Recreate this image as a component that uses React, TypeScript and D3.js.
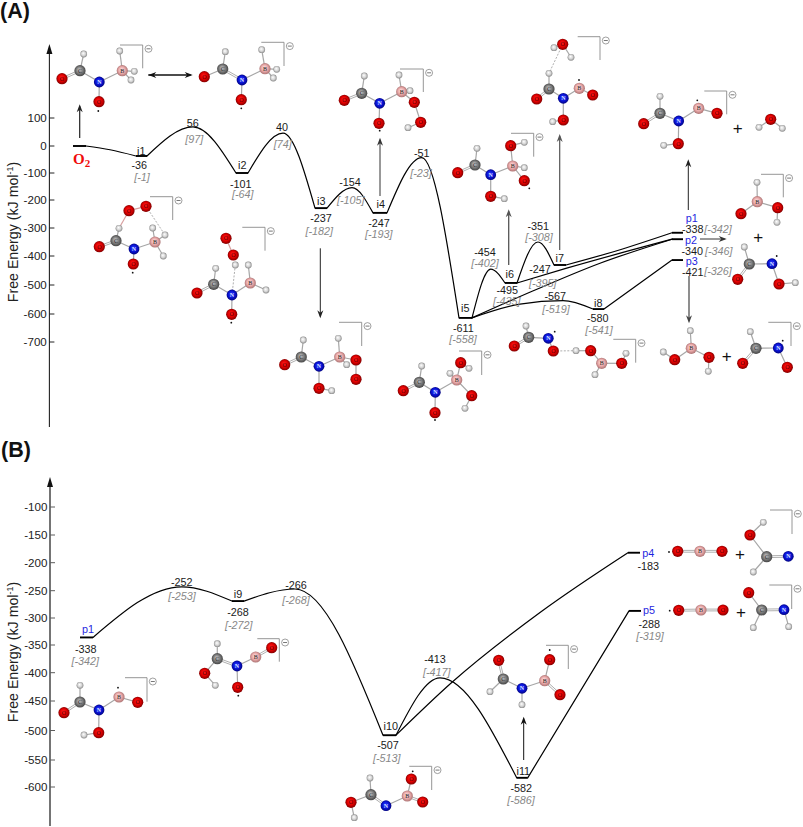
import React from "react";
import * as d3 from "d3";

// ---------- axis data ----------
const ticksA = [100, 0, -100, -200, -300, -400, -500, -600, -700];
const ticksAPos = [118, 146, 173, 200, 228, 256, 285, 314, 342];
const ticksB = [-100, -150, -200, -250, -300, -350, -400, -450, -500, -550, -600];
const ticksBPos = [507, 535, 562.7, 590.7, 618, 645, 672.7, 701, 730.5, 760, 787];

const xs = d3.scaleLinear().domain([0, 803]).range([0, 803]);
const yA = d3.scaleLinear().domain(ticksA).range(ticksAPos);
const yB = d3.scaleLinear().domain(ticksB).range(ticksBPos);

// ---------- energy profile, panel A: [reaction coordinate, energy as drawn] ----------
type P = [number, number];
const levelsA: P[][] = [
  [[73, 0], [86, 0]],
  [[136, -37], [147, -37]],
  [[236, -100], [248, -100]],
  [[315, -229], [327, -229]],
  [[373, -246], [387, -246]],
  [[459, -614], [472, -614]],
  [[505, -493], [517, -493]],
  [[554, -431], [566, -431]],
  [[593, -583], [604, -583]],
  [[672, -317], [683, -317]],
  [[672, -340], [683, -340]],
  [[672, -414], [683, -414]],
];
const arcsA: P[][] = [
  [[86, 0], [110, -14], [136, -37]],
  [[147, -37], [193, 68], [236, -100]],
  [[248, -100], [283, 46], [315, -229]],
  [[327, -229], [352, -154], [373, -246]],
  [[387, -246], [421.7, -43], [459, -614]],
  [[472, -614], [490.7, -445], [505, -493]],
  [[517, -493], [538, -350], [554, -431]],
];
const linksA: P[][] = [
  [[566, -431], [616, -382], [672, -317]],
  [[517, -493], [566.7, -442], [672, -340]],
  [[472, -614], [533.3, -520], [600, -425], [672, -340]],
  [[472, -614], [520, -566], [563, -554], [593, -583]],
  [[604, -583], [672, -414]],
];

// ---------- energy profile, panel B ----------
const levelsB: P[][] = [
  [[80, -336], [93, -336]],
  [[232, -269], [244, -269]],
  [[383, -508], [396, -508]],
  [[516.7, -583], [527.7, -583]],
  [[628, -182], [640, -182]],
  [[629, -287], [641, -287]],
];
const arcsB: P[][] = [
  [[93, -336], [181.7, -243], [232, -269]],
  [[244, -269], [295, -247], [383, -508]],
  [[396, -508], [440, -409], [516.7, -583]],
  [[396, -508], [452, -417], [540, -290], [628, -182]],
  [[527.7, -583], [629, -287]],
];

const curve = d3.curveMonotoneX;
const lineA = d3.line<P>().x(d => xs(d[0])).y(d => yA(d[1])).curve(curve);
const lineB = d3.line<P>().x(d => xs(d[0])).y(d => yB(d[1])).curve(curve);

// ---------- labels: text ----------
const energyTexts = ["-36","56","-101","40","-237","-154","-247","-51","-611","-454","-495","-351","-247","-567","-580","-338","-340","-421",
  "-338","-252","-268","-266","-507","-413","-582","-183","-288"];
const bracketTexts = ["[-1]","[97]","[-64]","[74]","[-182]","[-105]","[-193]","[-23]","[-558]","[-402]","[-435]","[-308]","[-395]","[-519]","[-541]","[-342]","[-346]","[-326]",
  "[-342]","[-253]","[-272]","[-268]","[-513]","[-417]","[-586]","[-319]"];
const stateTexts = ["i1","i2","i3","i4","i5","i6","i7","i8","i9","i10","i11"];
const productTexts = ["p1","p2","p3","p1","p4","p5"];

// ---------- labels: layout ----------
const energyPos: P[] = [[139.3,165],[192.7,122.7],[240.7,183.7],[282,127.3],[321,217.7],[350,182],[379,223],[421.7,152.7],[463.3,328],[485,251.7],[507.3,290.4],[538.3,226],[540,269],[555.3,296],[597.7,318.3],[692.7,229],[692.3,251],[692.7,272.6],
  [85.7,649],[181.7,582],[238,612.3],[296,584.7],[388,745],[435,658.7],[521.3,787.7],[648.3,566],[649.3,624.3]];
const bracketPos: P[] = [[142,177],[194.3,139.3],[242.7,194.3],[282.7,144.3],[319.3,230.7],[350.7,200],[378.7,234.3],[421,173],[463,338.7],[485,262.7],[506.7,301.4],[539,237],[542.7,282.7],[556,309.3],[599,329.7],[718,228.7],[718.7,251],[718,270.7],
  [85.3,660.7],[182,595.7],[238.7,624.7],[296,600],[386.7,757.7],[436.7,672.3],[521,799.7],[650,636.3]];
const statePos: P[] = [[141.3,150.7],[242.3,165],[321.3,201],[380.7,204.3],[465.3,308],[509.7,274.3],[559.7,258.3],[598.3,303],[238,593.7],[390.7,726.3],[523.3,770.7]];
const productPos: P[] = [[691.7,218.3],[691,240],[691.7,261.6],[88,628.7],[648.3,552.7],[649,610.3]];

// ---------- arrows ----------
const arrows: { a: P; b: P; w: number; c: string; both?: boolean }[] = [
  { a: [79.7, 138], b: [79.7, 104.3], w: 1.2, c: "#222" },
  { a: [148.3, 75], b: [192.7, 75], w: 1.6, c: "#111", both: true },
  { a: [320.3, 248.3], b: [320.3, 318.3], w: 1, c: "#222" },
  { a: [380, 196], b: [380, 137.7], w: 1, c: "#333" },
  { a: [508.7, 265], b: [508.7, 209.3], w: 1.3, c: "#555" },
  { a: [559.7, 250], b: [559.7, 134], w: 1.2, c: "#555" },
  { a: [688.3, 210], b: [688.3, 159.3], w: 1, c: "#222" },
  { a: [700, 239], b: [726.7, 239], w: 1, c: "#333" },
  { a: [689, 276], b: [689, 323.3], w: 1.2, c: "#444" },
  { a: [523.7, 760], b: [523.7, 716.7], w: 1, c: "#111" },
];

// ---------- molecules ----------
type A = [string, number, number];
type Mol = { atoms: A[]; bonds: number[][] };
// bond: [from, to, kind]; kind 1 single, 2 double, 3 dashed, 4 pink
const molecules: Mol[] = [
  { atoms: [["O",62,78.7],["C",80,70.7],["H",83.7,54],["N",99.3,82],["O",99,101.7],["B",122.3,70.7],["H",119.7,51],["H",134.3,71.3],["H",131,80]],
    bonds: [[0,1,2],[1,2,1],[1,3,1],[3,4,1],[3,5,1],[5,6,1],[5,7,1],[5,8,1]] },
  { atoms: [["O",204.3,76.7],["C",222.7,69],["H",225.3,51.7],["N",242,80],["O",241.3,99.7],["B",265,68.7],["H",261.7,49.7],["H",276.7,69.3],["H",273.3,78]],
    bonds: [[0,1,1],[1,2,1],[1,3,2],[3,4,1],[3,5,1],[5,6,1],[5,7,1],[5,8,1]] },
  { atoms: [["O",129,210.7],["O",146,206.3],["H",119,228.3],["C",116,240.7],["O",99.3,246.7],["N",134,249],["O",133.3,264],["B",155,242],["H",152.7,228],["H",165,235],["H",163.3,256]],
    bonds: [[0,1,4],[0,2,4],[2,3,1],[3,4,2],[3,5,1],[5,6,1],[5,7,1],[7,8,1],[7,9,1],[7,10,1],[1,9,3]] },
  { atoms: [["O",226,238.3],["O",233.3,255],["H",235.3,265],["C",213.7,284.3],["H",215.7,268.3],["O",197,293],["N",232,295],["O",231.7,314.3],["B",250.3,283],["H",248.3,265],["H",266,290]],
    bonds: [[0,1,4],[2,6,3],[3,4,1],[3,5,2],[3,6,1],[6,7,1],[6,8,1],[8,9,1],[8,10,1]] },
  { atoms: [["C",301.3,357],["H",303.3,340],["O",284.7,364.7],["N",319,366.3],["O",319,388.3],["H",331.7,390.7],["B",339.7,357],["H",338.3,338.3],["H",346.7,364.7],["O",356,360],["O",356,379.3]],
    bonds: [[0,1,1],[0,2,2],[0,3,1],[3,4,1],[4,5,1],[3,6,1],[6,7,1],[6,8,1],[6,9,1],[9,10,1]] },
  { atoms: [["C",361.7,93.3],["H",364.3,76],["O",344.3,100.3],["N",379.7,103.3],["O",379,123.3],["B",401.7,91.7],["H",399,75],["H",410,90.7],["O",414.3,102.3],["O",420.7,122.3],["H",408,127.7]],
    bonds: [[0,1,1],[0,2,2],[0,3,1],[3,4,1],[3,5,1],[5,6,1],[5,7,1],[5,8,1],[8,9,1],[9,10,1]] },
  { atoms: [["O",403.3,390.7],["C",419.3,382.3],["H",421.7,366],["N",435.3,392.3],["O",435,412.7],["B",456.7,380],["H",450,373.3],["O",460.7,362.7],["H",469,368.3],["O",471.7,395.7],["H",465,408.3]],
    bonds: [[0,1,2],[1,2,1],[1,3,1],[3,4,1],[3,5,1],[5,6,1],[5,7,1],[7,8,1],[5,9,1],[9,10,1]] },
  { atoms: [["C",475,165],["H",477,148.3],["O",457.7,172.7],["N",490.7,174.7],["O",490.7,196.3],["H",504.3,198.7],["B",512.7,166],["O",510.7,145.7],["H",524.3,142.3],["H",524.3,167.7],["O",524.3,180.7]],
    bonds: [[0,1,1],[0,2,2],[0,3,1],[3,4,1],[4,5,1],[3,6,1],[6,7,1],[7,8,1],[6,9,1],[6,10,1]] },
  { atoms: [["O",562.7,44.3],["H",554,47.7],["H",571,57.3],["H",549,73.3],["C",549,89],["O",536.7,99],["N",563.3,98.3],["O",563.3,120],["H",552.7,121.7],["B",579.3,88.3],["O",592.7,95]],
    bonds: [[0,1,1],[0,2,1],[0,3,3],[3,4,1],[4,5,2],[4,6,1],[6,7,1],[7,8,1],[6,9,1],[9,10,1]] },
  { atoms: [["C",660,113.3],["H",660,96.3],["O",643.7,123.7],["N",678.7,121],["O",678.3,143.7],["H",663.7,145.3],["B",698.7,108.3],["O",717,113.3]],
    bonds: [[0,1,1],[0,2,2],[0,3,1],[3,4,1],[4,5,1],[3,6,1],[6,7,1]] },
  { atoms: [["O",770.7,119.3],["H",759,127.3],["H",782.3,128.3]], bonds: [[0,1,1],[0,2,1]] },
  { atoms: [["H",757,182.3],["B",757.3,201.7],["O",741,213.7],["O",777.7,207.7],["H",777,222.3]],
    bonds: [[0,1,1],[1,2,1],[1,3,1],[3,4,1]] },
  { atoms: [["C",749.3,264],["H",744.3,247],["O",737.7,279.3],["N",772,263.7],["O",779,284],["H",795.3,282.7]],
    bonds: [[0,1,1],[0,2,2],[0,3,1],[3,4,1],[4,5,1]] },
  { atoms: [["H",690.3,330.7],["B",691.3,348.3],["O",674.7,359.7],["H",663.3,352],["O",709,357.3],["H",708.3,371.3]],
    bonds: [[0,1,1],[1,2,1],[2,3,1],[1,4,1],[4,5,1]] },
  { atoms: [["C",756,348.3],["H",750.3,331.7],["O",742.7,363.3],["N",778.3,348],["O",787.3,367.3]],
    bonds: [[0,1,1],[0,2,2],[0,3,1],[3,4,1]] },
  { atoms: [["H",526,326],["C",528.7,337.3],["O",514.3,346],["N",548.3,338.3],["O",553.3,351],["H",576,350.7],["O",590.7,350.7],["B",601.7,363.3],["H",595,374.7],["O",621.7,363.3],["H",626,353.3]],
    bonds: [[0,1,1],[1,2,2],[1,3,1],[3,4,1],[4,5,3],[5,6,1],[6,7,1],[7,8,1],[7,9,1],[9,10,1]] },
  { atoms: [["H",80,685.3],["C",80,702],["O",64,712.7],["N",99,710],["O",98.7,732.7],["H",84,735],["B",119,697],["O",137.7,702.3]],
    bonds: [[0,1,1],[1,2,2],[1,3,1],[3,4,1],[4,5,1],[3,6,1],[6,7,1]] },
  { atoms: [["H",217.3,643.7],["C",217.3,658.7],["O",204.7,673.3],["H",215.3,685.3],["N",237,666],["O",237.7,687.3],["B",255.7,657],["O",271.7,647.7]],
    bonds: [[0,1,1],[1,2,1],[2,3,1],[1,4,2],[4,5,1],[4,6,1],[6,7,2]] },
  { atoms: [["H",370,778],["C",371,794.7],["O",351,802.3],["H",354.3,817.7],["N",386,805.7],["B",407.3,796],["O",411.3,779],["O",422.7,802]],
    bonds: [[0,1,1],[1,2,1],[2,3,1],[1,4,2],[4,5,1],[5,6,1],[5,7,2]] },
  { atoms: [["O",498.7,660.3],["C",503.3,679],["H",490,691.7],["N",522,688.3],["H",522,704.7],["B",544.7,680.7],["O",549.7,659.7],["O",560,694.7]],
    bonds: [[0,1,2],[1,2,1],[1,3,1],[3,4,1],[3,5,1],[5,6,1],[5,7,2]] },
  { atoms: [["O",677.7,551.3],["B",700,551.3],["O",722,551.3]], bonds: [[0,1,2],[1,2,2]] },
  { atoms: [["O",750,535],["H",763.3,522.3],["C",766.7,556.7],["H",753.3,572],["N",788.3,556.3]],
    bonds: [[0,1,1],[0,2,1],[2,3,1],[2,4,2]] },
  { atoms: [["O",678.7,610.3],["B",701,610],["O",723,610]], bonds: [[0,1,2],[1,2,2]] },
  { atoms: [["O",748.7,592.7],["C",761.7,610],["H",753.3,627.7],["N",784,609.7],["H",788.7,626.7]],
    bonds: [[0,1,1],[1,2,1],[1,3,2],[3,4,1]] },
];

// bracket: corner x, top y, left x, bottom y
const brackets: number[][] = [
  [142.7,45,120,68.3],[284,42.3,261.3,66],[172.7,196.7,150,220],[265,227.3,242.3,250.7],[361.7,322.3,339,346],
  [423.3,69,400,92],[481.7,351,459,375],[533.7,133.3,511,156.7],[600,36.7,577.7,60],[726.7,91,704.3,114.3],
  [783.3,174.3,761,197.3],[791,322.3,768.3,346],[635.7,339.3,613.3,362.7],
  [147,677.7,125,701.7],[279.3,638.7,257.3,661.7],[431.7,766.3,409.3,790],[568.3,645.3,546,669],[792,510,770,534],[791.7,585,769.3,609],
];
const dots: P[] = [[98.3,111],[241.3,108.3],[132.7,272.7],[231.3,322.7],[379.7,130.7],[435,420],[529.3,188.3],[579,80],[697.3,100.3],[776.7,256],[782.7,340.7],[554.7,331.7],
  [118,687.7],[238.3,695.7],[412.7,771.3],[549.7,650],[669,552],[669.7,610.7]];
const plusses: P[] = [[737.7,127.7],[758.3,237],[726.7,355.7],[740,553.7],[741,611.7]];

const atomR: Record<string, number> = { O: 5.6, N: 5.4, C: 5.6, B: 5.6, H: 3.4 };
const atomStops: Record<string, string[]> = {
  O: ["#ff1a1a", "#e00000", "#6e0000"],
  N: ["#2a3cff", "#0a14d8", "#00006e"],
  C: ["#c8c8c8", "#7a7a7a", "#3a3a3a"],
  B: ["#ffe0e0", "#e8a8a8", "#a06868"],
  H: ["#ffffff", "#d4d4d4", "#7c7c7c"],
};
const sans = "'Liberation Sans', Arial, sans-serif";
const serif = "'Liberation Serif', 'Times New Roman', serif";

function Bond({ a, b, kind }: { a: A; b: A; kind: number }) {
  const [x1, y1] = [xs(a[1]), xs(a[2])];
  const [x2, y2] = [xs(b[1]), xs(b[2])];
  if (kind === 2) {
    const l = Math.hypot(x2 - x1, y2 - y1) || 1;
    const nx = (-(y2 - y1) / l) * 0.9;
    const ny = ((x2 - x1) / l) * 0.9;
    return (
      <g stroke="#a6a6a6" strokeWidth={0.9}>
        <line x1={x1 + nx} y1={y1 + ny} x2={x2 + nx} y2={y2 + ny} />
        <line x1={x1 - nx} y1={y1 - ny} x2={x2 - nx} y2={y2 - ny} />
      </g>
    );
  }
  if (kind === 3) return <line x1={x1} y1={y1} x2={x2} y2={y2} stroke="#999" strokeWidth={0.8} strokeDasharray="2 1.5" />;
  return <line x1={x1} y1={y1} x2={x2} y2={y2} stroke={kind === 4 ? "#d8a0a0" : "#a6a6a6"} strokeWidth={1.2} />;
}

function Molecule({ m }: { m: Mol }) {
  return (
    <g>
      {m.bonds.map((b, i) => <Bond key={i} a={m.atoms[b[0]]} b={m.atoms[b[1]]} kind={b[2]} />)}
      {m.atoms.map((a, i) => (
        <g key={i}>
          <circle cx={xs(a[1])} cy={xs(a[2])} r={atomR[a[0]]} fill={`url(#g${a[0]})`} />
          {a[0] !== "H" && (
            <text x={xs(a[1])} y={xs(a[2])} dy="0.35em" textAnchor="middle" fontFamily={serif} fontSize={6} fontWeight={a[0] === "N" ? 700 : 400}
              fill={a[0] === "N" ? "#dfe4ff" : a[0] === "O" ? "#500" : "#222"}>{a[0]}</text>
          )}
        </g>
      ))}
    </g>
  );
}

function ArrowHead({ x, y, ux, uy, c }: { x: number; y: number; ux: number; uy: number; c: string }) {
  const nx = -uy, ny = ux;
  const L = 8, W = 3, N = 5.5;
  const d = `M${x},${y}L${x - ux * L + nx * W},${y - uy * L + ny * W}L${x - ux * N},${y - uy * N}L${x - ux * L - nx * W},${y - uy * L - ny * W}Z`;
  return <path d={d} fill={c} />;
}

function Arrow({ a, b, w, c, both }: { a: P; b: P; w: number; c: string; both?: boolean }) {
  const [x1, y1, x2, y2] = [xs(a[0]), xs(a[1]), xs(b[0]), xs(b[1])];
  const l = Math.hypot(x2 - x1, y2 - y1);
  const ux = (x2 - x1) / l, uy = (y2 - y1) / l;
  return (
    <g>
      <line x1={x1} y1={y1} x2={x2 - ux * 2} y2={y2 - uy * 2} stroke={c} strokeWidth={w} />
      <ArrowHead x={x2} y={y2} ux={ux} uy={uy} c={c} />
      {both && <ArrowHead x={x1} y={y1} ux={-ux} uy={-uy} c={c} />}
    </g>
  );
}

function YAxis({ x, top, bottom, ticks, scale, color, width, centerY }: any) {
  return (
    <g>
      <line x1={x} y1={top + 6} x2={x} y2={bottom} stroke={color} strokeWidth={width} />
      <path d={`M${x},${top}L${x + 3},${top + 10}L${x - 3},${top + 10}Z`} fill="#111" />
      {ticks.map((t: number) => (
        <g key={t}>
          <line x1={x} x2={x + 5} y1={scale(t)} y2={scale(t)} stroke={color} strokeWidth={1} />
          <text x={x - 2.6} y={scale(t)} dy="0.36em" textAnchor="end" fontFamily={sans} fontSize={11.6} fill="#222">{t}</text>
        </g>
      ))}
      <text transform={`translate(13,${centerY}) rotate(-90)`} textAnchor="middle" dy="0.35em" fontFamily={sans} fontSize={14.2} fill="#222">
        Free Energy (kJ mol<tspan dy="-4.5" fontSize={9}>-1</tspan><tspan dy="4.5">)</tspan>
      </text>
    </g>
  );
}

export default function App() {
  const tx = (t: string, p: P, i: number, fill: string, size: number, italic = false) => (
    <text key={i} x={xs(p[0])} y={xs(p[1])} dy="0.36em" textAnchor="middle" fontFamily={sans} fontSize={size} fill={fill} fontStyle={italic ? "italic" : "normal"}>{t}</text>
  );
  return (
    <svg width={803} height={827} viewBox="0 0 803 827" style={{ position: "absolute", left: 0, top: 0, background: "#fff" }}>
      <defs>
        {Object.keys(atomStops).map(k => (
          <radialGradient key={k} id={`g${k}`} cx="50%" cy="50%" r="55%" fx="42%" fy="38%">
            <stop offset="0%" stopColor={atomStops[k][0]} />
            <stop offset="55%" stopColor={atomStops[k][1]} />
            <stop offset="100%" stopColor={atomStops[k][2]} />
          </radialGradient>
        ))}
      </defs>

      <text x={0} y={18.3} fontFamily={sans} fontWeight={700} fontSize={21.5} fill="#111">(A)</text>
      <text x={1} y={456.7} fontFamily={sans} fontWeight={700} fontSize={21.5} fill="#111">(B)</text>

      <YAxis x={49.4} top={44} bottom={427} ticks={ticksA} scale={yA} color="#222" width={1.1} centerY={232} />
      <YAxis x={50} top={477} bottom={826} ticks={ticksB} scale={yB} color="#5c5c5c" width={1.7} centerY={652} />

      <g fill="none" stroke="#000" strokeWidth={1.2} strokeLinecap="round">
        {arcsA.concat(linksA).map((d, i) => <path key={i} d={lineA(d) as string} />)}
        {arcsB.map((d, i) => <path key={i} d={lineB(d) as string} />)}
      </g>
      <g fill="none" stroke="#000" strokeWidth={1.9}>
        {levelsA.map((d, i) => <path key={i} d={d3.line<P>().x(p => xs(p[0])).y(p => yA(p[1]))(d) as string} />)}
        {levelsB.map((d, i) => <path key={i} d={d3.line<P>().x(p => xs(p[0])).y(p => yB(p[1]))(d) as string} />)}
      </g>

      <text x={73} y={164} fontFamily={serif} fontWeight={700} fontSize={15} fill="#f00b0b">O<tspan dy={2.5} fontSize={11}>2</tspan></text>

      {molecules.map((m, i) => <Molecule key={i} m={m} />)}
      {arrows.map((a, i) => <Arrow key={i} {...a} />)}

      {brackets.map((b, i) => (
        <g key={i}>
          <path d={`M${xs(b[2])},${xs(b[1])}H${xs(b[0])}V${xs(b[3])}`} fill="none" stroke="#8a8a8a" strokeWidth={0.9} />
          <circle cx={xs(b[0]) + 5.8} cy={xs(b[1]) + 3.8} r={3.5} fill="#fff" stroke="#777" strokeWidth={0.7} />
          <line x1={xs(b[0]) + 3.8} x2={xs(b[0]) + 7.8} y1={xs(b[1]) + 3.8} y2={xs(b[1]) + 3.8} stroke="#555" strokeWidth={0.8} />
        </g>
      ))}
      {dots.map((d, i) => <circle key={i} cx={xs(d[0])} cy={xs(d[1])} r={0.9} fill="#111" />)}
      {plusses.map((d, i) => <text key={i} x={xs(d[0])} y={xs(d[1])} dy="0.35em" textAnchor="middle" fontFamily={sans} fontSize={17} fill="#111">+</text>)}

      {energyTexts.map((t, i) => tx(t, energyPos[i], i, "#1a1a1a", 10.8))}
      {bracketTexts.map((t, i) => tx(t, bracketPos[i], i, "#888", 10.8, true))}
      {stateTexts.map((t, i) => tx(t, statePos[i], i, "#1a1a1a", 10.8))}
      {productTexts.map((t, i) => tx(t, productPos[i], i, "#1f1fe0", 10.8))}
    </svg>
  );
}
